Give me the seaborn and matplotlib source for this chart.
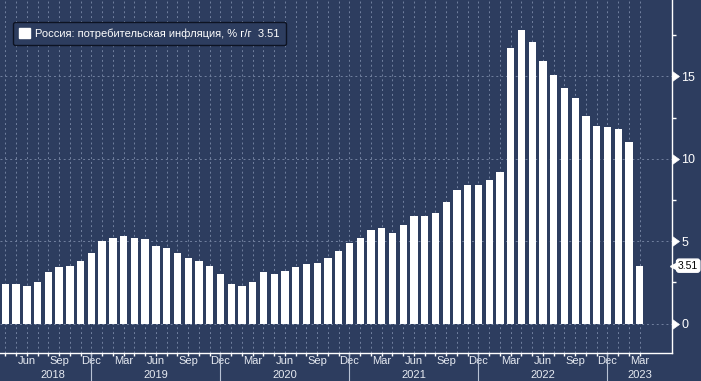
"""
Russia CPI, % y/y - monthly bars, Bloomberg-like dark style
"""

import matplotlib
matplotlib.use("Agg")
import matplotlib.pyplot as plt
import matplotlib.markers as mmarkers
import matplotlib.patches as mpatches
import matplotlib.transforms as mtransforms
import numpy as np
import pandas as pd
import seaborn as sns

# data: Apr 2018 .. Mar 2023
months = pd.date_range("2018-04-01", "2023-03-01", freq="MS")
cpi_2018 = [2.4, 2.4, 2.3, 2.5, 3.1, 3.4, 3.5, 3.8, 4.3]
cpi_2019 = [5.0, 5.2, 5.3, 5.2, 5.1, 4.7, 4.6, 4.3, 4.0, 3.8, 3.5, 3.0]
cpi_2020 = [2.4, 2.3, 2.5, 3.1, 3.0, 3.2, 3.4, 3.6, 3.7, 4.0, 4.4, 4.9]
cpi_2021 = [5.2, 5.7, 5.8, 5.5, 6.0, 6.5, 6.5, 6.7, 7.4, 8.1, 8.4, 8.4]
cpi_2022 = [8.7, 9.2, 16.7, 17.8, 17.1, 15.9, 15.1, 14.3, 13.7, 12.6, 12.0, 11.9]
cpi_2023 = [11.8, 11.0, 3.51]
cpi = cpi_2018 + cpi_2019 + cpi_2020 + cpi_2021 + cpi_2022 + cpi_2023

y_ticks = [0, 5, 10, 15]
y_minor = [2.5, 7.5, 12.5, 17.5]
label_months = {3: "Mar", 6: "Jun", 9: "Sep", 12: "Dec"}
series_name = "Россия: потребительская инфляция, % г/г  3.51"
last_value = "3.51"

BG = "#2d3d5f"
GRID = "#72819f"
TXT = "#e6eaf1"

plt.rcParams["font.family"] = ["Liberation Sans", "DejaVu Sans"]

df = pd.DataFrame({"month": months.strftime("%Y-%m"), "cpi": cpi})

fig = plt.figure(figsize=(7.01, 3.81), dpi=100, facecolor=BG)
ax = fig.add_axes([0, 28 / 381, 672 / 701, 353 / 381])
ax.set_facecolor(BG)

sns.barplot(data=df, x="month", y="cpi", color="white", saturation=1,
            width=0.68, ax=ax)

ax.set_xlim(-0.5, 62.0)
ax.set_ylim(-1.79, 19.63)
ax.set_xlabel("")
ax.set_ylabel("")

# spines
for side in ["top", "left"]:
    ax.spines[side].set_visible(False)
for side in ["bottom", "right"]:
    ax.spines[side].set_color("white")
    ax.spines[side].set_linewidth(1)

# y axis on the right
ax.yaxis.tick_right()
ax.set_yticks(y_ticks)
ax.set_yticks(y_minor, minor=True)
ax.tick_params(axis="y", which="major", length=6, width=0.5, colors="white",
               labelsize=9, pad=0.5)
ax.tick_params(axis="y", which="minor", length=3, width=1, colors="white")
for t in ax.yaxis.get_major_ticks():
    t.tick2line.set_marker(mmarkers.CARETRIGHTBASE)
    t.tick2line.set_markersize(7)
    t.tick2line.set_markerfacecolor("white")
    t.tick2line.set_markeredgecolor("white")

# x axis: a tick at every month, labels every quarter
idx = np.arange(len(months))
lab_idx = [i for i, m in enumerate(months) if m.month in label_months]
ax.set_xticks(lab_idx)
ax.set_xticklabels([label_months[months[i].month] for i in lab_idx])
ax.set_xticks(idx, minor=True)
ax.tick_params(axis="x", which="both", length=2, width=1, colors="white",
               labelsize=8, pad=0.5)
for lbl in ax.get_xticklabels():
    lbl.set_color(TXT)

# grid
ax.set_axisbelow(True)
ax.grid(axis="x", which="both", color=GRID, linestyle=(0, (2, 3)), linewidth=0.7)
ax.grid(axis="y", which="major", color=GRID, linestyle=(0, (2, 3)), linewidth=0.7)
ax.grid(axis="y", which="minor", visible=False)

# year labels and separators under the axis
trans = mtransforms.blended_transform_factory(ax.transData, ax.transAxes)
years = sorted(set(months.year))
dec_idx = [i for i, m in enumerate(months) if m.month == 12]
bounds = [0.86] + dec_idx + [62.0]
for yr, lo, hi in zip(years, bounds[:-1], bounds[1:]):
    ax.text((lo + hi) / 2, -0.0625, str(yr), transform=trans, ha="center",
            va="center", color=TXT, fontsize=8)
for d in dec_idx:
    ax.axvline(d, ymin=-0.085, ymax=0, clip_on=False, color="#b8c2d4",
               linewidth=0.8)

# last value tag on the right axis
ytrans = mtransforms.blended_transform_factory(ax.transAxes, ax.transData)
ax.text(1.009, cpi[-1], last_value, transform=ytrans, ha="left", va="center",
        fontsize=7.5, color="black", clip_on=False,
        bbox=dict(boxstyle="round,pad=0.15,rounding_size=0.25", fc="white",
                  ec="white"))
ax.plot([1.005], [cpi[-1]], marker="<", markersize=7, color="white",
        transform=ytrans, clip_on=False)

# legend
handle = mpatches.Patch(facecolor="white", edgecolor="white", label=series_name)
leg = ax.legend(handles=[handle], loc="upper left",
                bbox_to_anchor=(13 / 672, 1 - 22 / 353), borderaxespad=0,
                fontsize=8, frameon=True, fancybox=True, handlelength=0.95,
                handleheight=0.95, handletextpad=0.5, borderpad=0.55,
                labelcolor="white")
frame = leg.get_frame()
frame.set_facecolor(BG)
frame.set_edgecolor("#0d1322")
frame.set_linewidth(1)
frame.set_alpha(1)

plt.savefig("out.png", dpi=100, facecolor=BG)
plt.close()
